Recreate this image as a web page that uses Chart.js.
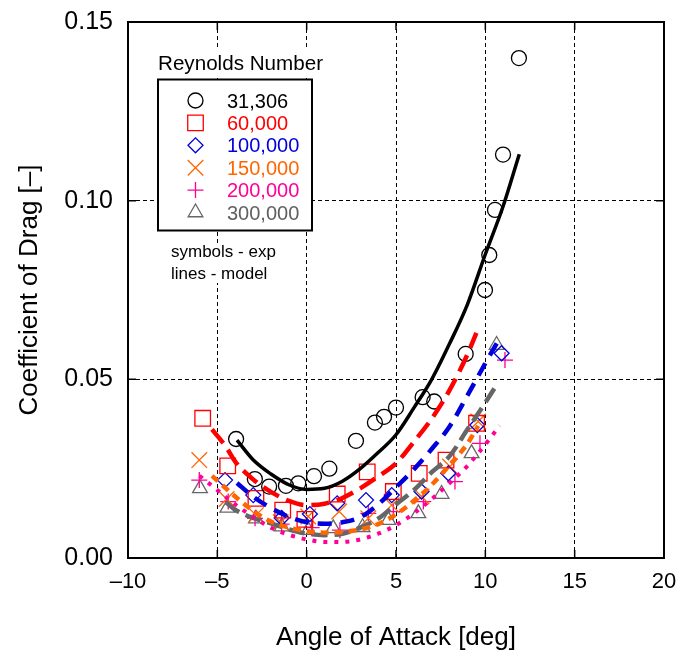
<!DOCTYPE html>
<html>
<head>
<meta charset="utf-8">
<script src="https://cdn.jsdelivr.net/npm/chart.js@4/dist/chart.umd.min.js"></script>
<style>
  body { margin: 0; background: #fff; }
  #wrap { width: 677px; height: 655px; }
</style>
</head>
<body>
<div id="wrap"><canvas id="mychart" width="677" height="655"></canvas></div>
<script>
// experimental points (symbols)
var exp31306Aoa = [-3.95, -2.9, -2.1, -1.16, -0.47, 0.41, 1.27, 2.76, 3.82, 4.33, 5.0, 6.49, 7.14, 8.9, 9.98, 10.22, 10.54, 10.99, 11.88];
var exp31306Cd  = [0.0333, 0.0221, 0.0200, 0.0202, 0.0209, 0.0229, 0.0250, 0.0328, 0.0379, 0.0395, 0.0421, 0.0450, 0.0438, 0.0571, 0.0750, 0.0848, 0.0974, 0.1129, 0.1399];

var exp60kAoa = [-5.82, -4.42, -2.84, -1.34, -0.1, 1.71, 3.39, 4.85, 6.3, 7.8, 9.51];
var exp60kCd  = [0.0391, 0.0258, 0.0167, 0.0134, 0.0108, 0.0179, 0.0241, 0.0186, 0.0237, 0.0274, 0.0377];

var exp100kAoa = [-4.57, -2.99, -1.4, 0.18, 1.71, 3.32, 4.76, 6.43, 7.93, 9.55, 10.91];
var exp100kCd  = [0.0218, 0.0176, 0.0112, 0.0123, 0.0153, 0.0162, 0.0176, 0.0186, 0.0237, 0.0372, 0.0573];

var exp150kAoa = [-6.01, -4.48, -2.84, -1.45, 0.09, 1.82, 3.45, 4.76, 6.43, 8.02, 9.6];
var exp150kCd  = [0.0274, 0.0165, 0.0120, 0.0100, 0.0116, 0.0130, 0.0111, 0.0148, 0.0172, 0.0256, 0.0382];

var exp200kAoa = [-6.01, -4.39, -2.89, -1.4, 0.28, 1.86, 3.45, 4.85, 6.53, 8.3, 9.7, 11.1];
var exp200kCd  = [0.0218, 0.0158, 0.0111, 0.0095, 0.0085, 0.0078, 0.0125, 0.0130, 0.0158, 0.0214, 0.0321, 0.0554];

var exp300kAoa = [-5.97, -4.44, -2.84, -1.4, 0.09, 1.49, 3.13, 4.57, 6.25, 7.55, 9.23, 10.63];
var exp300kCd  = [0.0195, 0.0140, 0.0110, 0.0088, 0.0078, 0.0083, 0.0086, 0.0106, 0.0125, 0.0179, 0.0293, 0.0596];

// model curves (lines)
var model31306Aoa = [-3.9, -3, -2, -1, 0, 1, 2, 3, 4, 5, 6, 7, 8, 9, 10, 11, 11.9];
var model31306Cd  = [0.033, 0.0275, 0.0235, 0.0205, 0.0192, 0.0195, 0.0215, 0.025, 0.0295, 0.0345, 0.042, 0.050, 0.060, 0.071, 0.085, 0.0985, 0.113];

var model60kAoa = [-5.3, -4.5, -4, -3, -2, -1, 0, 1, 2, 3, 4, 5, 6, 7, 8, 9, 9.5];
var model60kCd  = [0.036, 0.031, 0.027, 0.022, 0.0185, 0.016, 0.0148, 0.0152, 0.0168, 0.0195, 0.0228, 0.0265, 0.0325, 0.039, 0.047, 0.057, 0.063];

var model100kAoa = [-3.9, -3, -2, -1, 0, 1, 2, 3, 4, 5, 6, 7, 8, 9, 10, 10.8];
var model100kCd  = [0.021, 0.0172, 0.014, 0.0115, 0.0100, 0.0096, 0.0100, 0.0114, 0.0150, 0.0198, 0.0248, 0.0305, 0.0368, 0.0455, 0.0545, 0.0615];

var model150kAoa = [-5.3, -4, -3, -2, -1, 0, 1, 2, 3, 4, 5, 6, 7, 8, 9, 9.6];
var model150kCd  = [0.023, 0.0172, 0.0132, 0.0102, 0.0085, 0.0075, 0.0071, 0.0073, 0.0080, 0.0095, 0.0122, 0.016, 0.0205, 0.026, 0.032, 0.037];

var model200kAoa = [-6, -5, -4, -3, -2, -1, 0, 1, 2, 3, 4, 5, 6, 7, 8, 9, 10, 10.8];
var model200kCd  = [0.023, 0.019, 0.015, 0.0115, 0.0085, 0.0065, 0.0052, 0.0045, 0.0045, 0.0052, 0.0068, 0.0092, 0.0125, 0.0165, 0.021, 0.0258, 0.0318, 0.037];

var model300kAoa = [-4.5, -4, -3, -2, -1, 0, 1, 2, 3, 4, 5, 6, 7, 8, 9, 10, 10.7];
var model300kCd  = [0.0155, 0.0135, 0.0112, 0.0097, 0.008, 0.0068, 0.0064, 0.0068, 0.0085, 0.011, 0.015, 0.019, 0.024, 0.0285, 0.036, 0.0435, 0.049];

var reynoldsLabels = ["31,306", "60,000", "100,000", "150,000", "200,000", "300,000"];
var seriesColors = ["#000000", "#ff0000", "#0000dd", "#ff6600", "#ff0099", "#666666"];
var labelColors  = ["#000000", "#ff0000", "#0000dd", "#ff6600", "#ff0099", "#606060"];
var pointStyles  = ["circle", "rect", "rectRot", "crossRot", "cross", "triangle"];
var pointSizes   = [7.5, 11, 7.5, 11, 8, 8.5];

var xTicks = [-10, -5, 0, 5, 10, 15, 20];
var yTicks = [0, 0.05, 0.10, 0.15];

var FONT = "Arial, 'Liberation Sans', Helvetica, sans-serif";

function pts(xs, ys) {
    var out = [];
    for (let i = 0; i < xs.length; i++) out.push({x: xs[i], y: ys[i]});
    return out;
}

// no extra room for overhanging tick labels, the layout padding sets the plot box
function noLabelPad(s) {
    s.paddingTop = 0; s.paddingBottom = 0; s.paddingLeft = 0; s.paddingRight = 0;
}

var expSets = [
    [exp31306Aoa, exp31306Cd], [exp60kAoa, exp60kCd], [exp100kAoa, exp100kCd],
    [exp150kAoa, exp150kCd], [exp200kAoa, exp200kCd], [exp300kAoa, exp300kCd]
];
var modelSets = [
    [model31306Aoa, model31306Cd], [model60kAoa, model60kCd], [model100kAoa, model100kCd],
    [model150kAoa, model150kCd], [model200kAoa, model200kCd], [model300kAoa, model300kCd]
];
var lineDash   = [[], [18, 8], [14, 9], [8, 6], [4, 7], [16, 7]];
var lineWidths = [3.5, 4.5, 4.5, 4.5, 4, 4.5];

var datasets = [];
modelSets.forEach(function(m, i){
    datasets.push({
        label: "model " + reynoldsLabels[i],
        data: pts(m[0], m[1]),
        showLine: true,
        borderColor: seriesColors[i],
        borderWidth: lineWidths[i],
        borderDash: lineDash[i],
        cubicInterpolationMode: "monotone",
        pointRadius: 0,
        fill: false
    });
});
expSets.forEach(function(e, i){
    datasets.push({
        label: reynoldsLabels[i],
        data: pts(e[0], e[1]),
        showLine: false,
        pointStyle: pointStyles[i],
        pointRadius: pointSizes[i],
        pointBorderWidth: 1.3,
        pointBorderColor: seriesColors[i],
        pointBackgroundColor: "rgba(0,0,0,0)"
    });
});

// legend box, notes, frame and inward tick marks
var extras = {
    id: "extras",
    afterDraw: function(chart){
        var ctx = chart.ctx;
        var a = chart.chartArea;
        var xs = chart.scales.x, ys = chart.scales.y;
        ctx.save();

        // tick marks pointing inward
        ctx.strokeStyle = "#000";
        ctx.lineWidth = 1.5;
        ctx.setLineDash([]);
        ctx.beginPath();
        xTicks.forEach(function(v){
            var px = xs.getPixelForValue(v);
            ctx.moveTo(px, a.top); ctx.lineTo(px, a.top + 8);
            ctx.moveTo(px, a.bottom); ctx.lineTo(px, a.bottom - 8);
        });
        yTicks.forEach(function(v){
            var py = ys.getPixelForValue(v);
            ctx.moveTo(a.left, py); ctx.lineTo(a.left + 8, py);
            ctx.moveTo(a.right, py); ctx.lineTo(a.right - 8, py);
        });
        ctx.stroke();

        ctx.lineWidth = 2;
        ctx.strokeRect(a.left, a.top, a.right - a.left, a.bottom - a.top);

        // legend
        ctx.fillStyle = "#fff";
        ctx.fillRect(157, 48, 168, 28);
        ctx.fillRect(158, 79, 155, 152);
        ctx.fillRect(160, 243, 115, 40);
        ctx.strokeStyle = "#000";
        ctx.lineWidth = 2;
        ctx.strokeRect(158, 79.5, 154, 151);

        ctx.fillStyle = "#000";
        ctx.textBaseline = "alphabetic";
        ctx.textAlign = "left";
        ctx.font = "20px " + FONT;
        var tw = ctx.measureText("Reynolds Number").width;
        ctx.save();
        ctx.translate(158, 69.5);
        ctx.scale(165 / tw, 1);
        ctx.fillText("Reynolds Number", 0, 0);
        ctx.restore();

        for (let i = 0; i < reynoldsLabels.length; i++) {
            var by = 107.5 + i * 22.4;
            ctx.strokeStyle = seriesColors[i];
            ctx.fillStyle = "rgba(0,0,0,0)";
            ctx.lineWidth = 1.3;
            Chart.helpers.drawPoint(ctx, {
                pointStyle: pointStyles[i],
                radius: pointSizes[i],
                rotation: 0,
                borderWidth: 1.3
            }, 195.5, by - 7);
            ctx.fillStyle = labelColors[i];
            ctx.font = "20px " + FONT;
            ctx.fillText(reynoldsLabels[i], 227, by);
        }

        ctx.fillStyle = "#000";
        ctx.font = "17px " + FONT;
        ctx.fillText("symbols - exp", 171, 256.5);
        ctx.fillText("lines - model", 171, 278.5);
        ctx.restore();
    }
};

var mychart = document.getElementById("mychart").getContext("2d");

var chart = new Chart(mychart, {
    type: "scatter",
    data: { datasets: datasets },
    options: {
        responsive: false,
        animation: false,
        layout: { padding: { top: 22, right: 13, left: 0, bottom: 0 } },
        plugins: {
            legend: { display: false },
            tooltip: { enabled: false }
        },
        scales: {
            x: {
                type: "linear",
                min: -10, max: 20,
                afterBuildTicks: function(s){ s.ticks = xTicks.map(function(v){ return {value: v}; }); },
                afterFit: function(s){ s.height = 97; noLabelPad(s); },
                grid: { color: "#000", lineWidth: 1, drawTicks: false },
                border: { display: true, color: "#000", width: 2, dash: [4, 3] },
                ticks: {
                    color: "#000",
                    padding: 11,
                    font: { family: FONT, size: 22 },
                    callback: function(v){ return v < 0 ? "\u2013" + Math.abs(v) : String(v); }
                },
                title: {
                    display: true,
                    text: "Angle of Attack [deg]",
                    color: "#000",
                    font: { family: FONT, size: 26 },
                    padding: { top: 0, bottom: 2 }
                }
            },
            y: {
                type: "linear",
                min: 0, max: 0.15,
                afterBuildTicks: function(s){ s.ticks = yTicks.map(function(v){ return {value: v}; }); },
                afterFit: function(s){ s.width = 128; noLabelPad(s); },
                grid: { color: "#000", lineWidth: 1, drawTicks: false },
                border: { display: true, color: "#000", width: 2, dash: [4, 3] },
                ticks: {
                    color: "#000",
                    padding: 15,
                    font: { family: FONT, size: 25 },
                    callback: function(v){ return Number(v).toFixed(2); }
                },
                title: {
                    display: true,
                    text: "Coefficient of Drag [\u2013]",
                    color: "#000",
                    font: { family: FONT, size: 26 },
                    padding: { top: 14, bottom: 0 }
                }
            }
        }
    },
    plugins: [extras]
});
</script>
</body>
</html>
